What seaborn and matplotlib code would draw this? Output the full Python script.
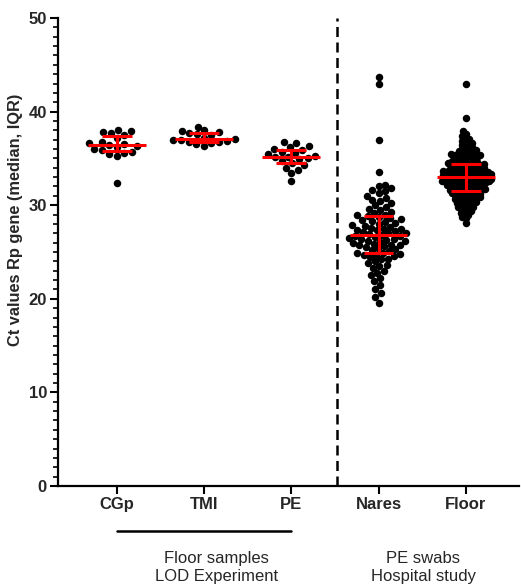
import numpy as np
import pandas as pd
import matplotlib
matplotlib.use("Agg")
import matplotlib.pyplot as plt
from matplotlib.ticker import MultipleLocator
import seaborn as sns

# ---------------- data ----------------
categories = ["CGp", "TMI", "PE", "Nares", "Floor"]

cgp = [37.9, 38.0, 37.8, 37.7, 37.5, 37.2, 36.8, 36.6, 36.5, 36.4, 36.3, 36.2,
       36.0, 35.9, 35.7, 35.6, 35.5, 35.3, 32.4]
tmi = [38.4, 38.0, 37.9, 37.8, 37.7, 37.6, 37.5, 37.2, 37.0, 37.1, 36.9, 36.95,
       36.8, 36.75, 36.6, 36.5, 36.35]
pe = [36.8, 36.6, 36.3, 36.2, 36.0, 35.9, 35.7, 35.6, 35.5, 35.3, 35.2, 35.1,
      35.0, 34.9, 34.7, 34.5, 34.3, 34.0, 33.8, 33.4, 32.6]
nares = [43.7, 43.0, 37.0, 33.6,
         32.2, 32.0, 31.8, 31.6, 31.5, 31.3, 31.0, 30.8, 30.6, 30.5, 30.2, 30.0,
         29.8, 29.6, 29.5, 29.3, 29.2, 29.0,
         28.9, 28.8, 28.7, 28.6, 28.5, 28.4, 28.3, 28.2, 28.1, 28.0, 27.9, 27.8,
         27.7, 27.6, 27.5, 27.5, 27.4, 27.3, 27.2, 27.1, 27.0, 27.0, 26.9, 26.8,
         26.7, 26.7, 26.6, 26.5, 26.4, 26.4, 26.3, 26.2, 26.2, 26.1, 26.0, 25.9,
         25.8, 25.8, 25.7, 25.6, 25.5, 25.4, 25.3, 25.2, 25.1, 24.9, 24.7, 24.9, 24.8,
         24.7, 24.6, 24.5, 24.3, 24.2, 24.0, 23.8, 23.6, 23.5, 23.3, 23.0, 22.8,
         22.5, 22.2, 21.9, 21.5, 21.0, 20.6, 20.2, 19.6]
floor = [42.9, 39.3,
         37.9, 37.6,
         37.4, 37.2, 37.05,
         36.9, 36.8, 36.65, 36.55,
         36.45, 36.35, 36.25, 36.15, 36.05,
         35.95, 35.9, 35.8, 35.75, 35.65, 35.6, 35.5,
         35.45, 35.4, 35.35, 35.3, 35.25, 35.2, 35.15, 35.1, 35.05,
         34.95, 34.9, 34.85, 34.8, 34.75, 34.7, 34.65, 34.6, 34.55, 34.5,
         34.48, 34.44, 34.41, 34.37, 34.33, 34.3, 34.26, 34.22, 34.17, 34.12,
         34.08, 34.02,
         33.97, 33.94, 33.9, 33.87, 33.83, 33.8, 33.77, 33.73, 33.69, 33.66,
         33.63, 33.6, 33.57, 33.54, 33.51,
         33.48, 33.46, 33.43, 33.4, 33.37, 33.35, 33.32, 33.29, 33.26, 33.23,
         33.2, 33.17, 33.14, 33.11, 33.08, 33.05, 33.02,
         32.98, 32.95, 32.93, 32.9, 32.87, 32.84, 32.81, 32.78, 32.75, 32.72,
         32.69, 32.66, 32.63, 32.6, 32.58, 32.55, 32.53, 32.51,
         32.48, 32.45, 32.41, 32.38, 32.35, 32.31, 32.28, 32.25, 32.21, 32.18,
         32.15, 32.11, 32.08, 32.05, 32.02,
         31.97, 31.93, 31.89, 31.85, 31.81, 31.77, 31.73, 31.69, 31.65, 31.61,
         31.57, 31.54, 31.51,
         31.46, 31.41, 31.37, 31.32, 31.28, 31.23, 31.19, 31.14, 31.1, 31.05, 31.01,
         30.95, 30.9, 30.84, 30.78, 30.73, 30.67, 30.62, 30.57, 30.52,
         30.46, 30.38, 30.31, 30.24, 30.17, 30.1, 30.03,
         29.95, 29.86, 29.78, 29.7, 29.61, 29.53,
         29.42, 29.3, 29.17, 29.05,
         28.9, 28.75, 28.6,
         28.15]

series = {"CGp": cgp, "TMI": tmi, "PE": pe, "Nares": nares, "Floor": floor}

group_labels = ["Floor samples\nLOD Experiment", "PE swabs\nHospital study"]
y_label = "Ct values Rp gene (median, IQR)"
y_ticks = [0, 10, 20, 30, 40, 50]

# ---------------- style ----------------
sns.set_style("ticks")
plt.rcParams["font.family"] = ["Liberation Sans", "DejaVu Sans"]

fig = plt.figure(figsize=(5.21, 5.87), dpi=100)
ax = fig.add_axes([58 / 521, 101 / 587, 461 / 521, 468 / 587])

pt_size = 5.4
# marker size used only for the swarm layout (smaller -> denser, overlapping blob)
layout_size = {"CGp": pt_size, "TMI": pt_size, "PE": pt_size,
               "Nares": 4.6, "Floor": 2.6}

dense_colls = []
for cat in categories:
    df = pd.DataFrame({"group": cat, "ct": series[cat]})
    n_before = len(ax.collections)
    sns.swarmplot(data=df, x="group", y="ct", order=categories, color="black",
                  size=layout_size[cat], ax=ax, zorder=2)
    if layout_size[cat] != pt_size:
        dense_colls.extend(ax.collections[n_before:])

xmin, xmax = -0.673, 4.61
ax.set_xlim(xmin, xmax)
ax.set_ylim(0, 50)

# compute swarm layout, then enlarge dots so dense groups overlap like the original
fig.canvas.draw()
for c in dense_colls:
    if "draw" in c.__dict__:
        del c.draw
    c.set_sizes([pt_size ** 2])

# median + IQR bars
for i, cat in enumerate(categories):
    vals = np.asarray(series[cat])
    q1, med, q3 = np.percentile(vals, [25, 50, 75])
    ax.hlines(med, i - 0.33, i + 0.33, color="#ff0000", lw=2.2, zorder=5)
    ax.hlines([q1, q3], i - 0.17, i + 0.17, color="#ff0000", lw=2.2, zorder=5)
    ax.vlines(i, q1, q3, color="#ff0000", lw=2.2, zorder=5)

# dashed separator
ax.axvline(2.53, color="black", lw=1.8, ls=(0, (4, 2.2)), zorder=1)

# axes styling
sns.despine(ax=ax)
for s in ["left", "bottom"]:
    ax.spines[s].set_linewidth(1.6)
    ax.spines[s].set_color("black")
ax.set_yticks(y_ticks)
ax.yaxis.set_minor_locator(MultipleLocator(1))
ax.tick_params(axis="both", which="major", length=6, width=1.5, color="black",
               labelsize=12, pad=2)
ax.tick_params(axis="y", which="minor", length=3.5, width=1.2, color="black")
for lab in ax.get_yticklabels():
    lab.set_fontweight("bold")
ax.set_xticks(range(len(categories)))
ax.set_xticklabels(categories, fontweight="bold", fontsize=12)
ax.set_xlabel("")
ax.set_ylabel(y_label, fontsize=11.8, fontweight="bold")
ax.yaxis.set_label_coords(-0.076, 0.568)

# group annotations below
tr = ax.get_xaxis_transform()
ax.plot([0, 2.0], [-0.096, -0.096], color="black", lw=1.8, transform=tr,
        clip_on=False)
ax.text(1.14, -0.174, group_labels[0], transform=tr, ha="center", va="center",
        fontsize=12, linespacing=1.2)
ax.text(3.51, -0.174, group_labels[1], transform=tr, ha="center", va="center",
        fontsize=12, linespacing=1.2)

fig.savefig("out.png", dpi=100)
